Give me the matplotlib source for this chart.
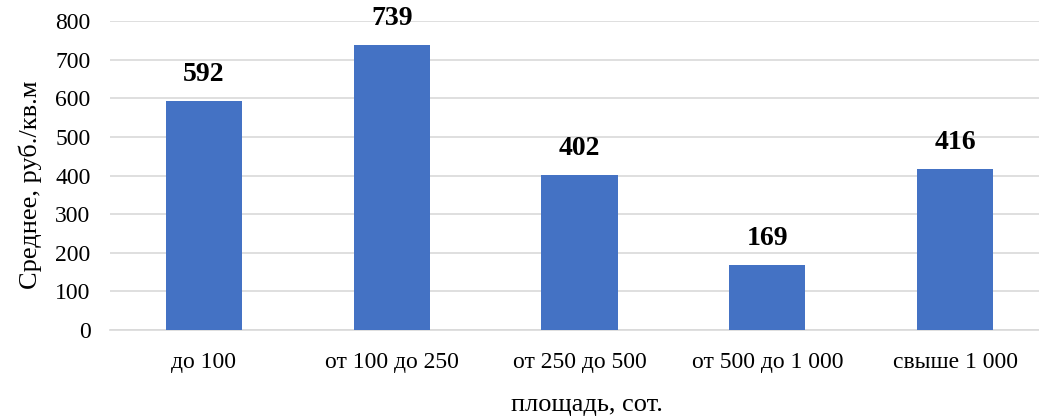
import numpy as np
import matplotlib.pyplot as plt

# Data
categories = ['до 100', 'от 100 до 250', 'от 250 до 500', 'от 500 до 1 000', 'свыше 1 000']
values = [592, 739, 402, 169, 416]
yticks = [0, 100, 200, 300, 400, 500, 600, 700, 800]

barColor = '#4472C4'
gridColor = '#D9D9D9'

plt.rcParams['font.family'] = ['Liberation Serif', 'DejaVu Serif']

fig = plt.figure(figsize=(10.39, 4.20), dpi=100)
ax = fig.add_axes([110/1039, 90/420, 939/1039, 309/420])

x = np.arange(len(categories))
bars = ax.bar(x, values, width=0.405, color=barColor, zorder=3)

for xi, v in zip(x, values):
    ax.annotate(str(v), (xi, v), xytext=(0, 10), textcoords='offset points',
                ha='center', va='bottom', fontsize=20, fontweight='bold')

ax.set_xlim(-0.5, len(categories) - 0.5)
ax.set_ylim(0, 800)
ax.set_yticks(yticks)
ax.set_xticks(x)
ax.set_xticklabels(categories)
ax.tick_params(axis='both', length=0, labelsize=17)
ax.tick_params(axis='y', pad=14)
ax.tick_params(axis='x', pad=16)

ax.grid(axis='y', color=gridColor, linewidth=1.2, zorder=0)
for s in ['top', 'right', 'left']:
    ax.spines[s].set_visible(False)
ax.spines['bottom'].set_color(gridColor)
ax.spines['bottom'].set_linewidth(1.2)

fig.text(30/1039, 1 - 185/420, 'Среднее, руб./кв.м', rotation=90,
         ha='center', va='center', fontsize=19)
fig.text(587/1039, 1 - 405/420, 'площадь, сот.', ha='center', va='center', fontsize=19)

fig.savefig('out.png', dpi=100)
